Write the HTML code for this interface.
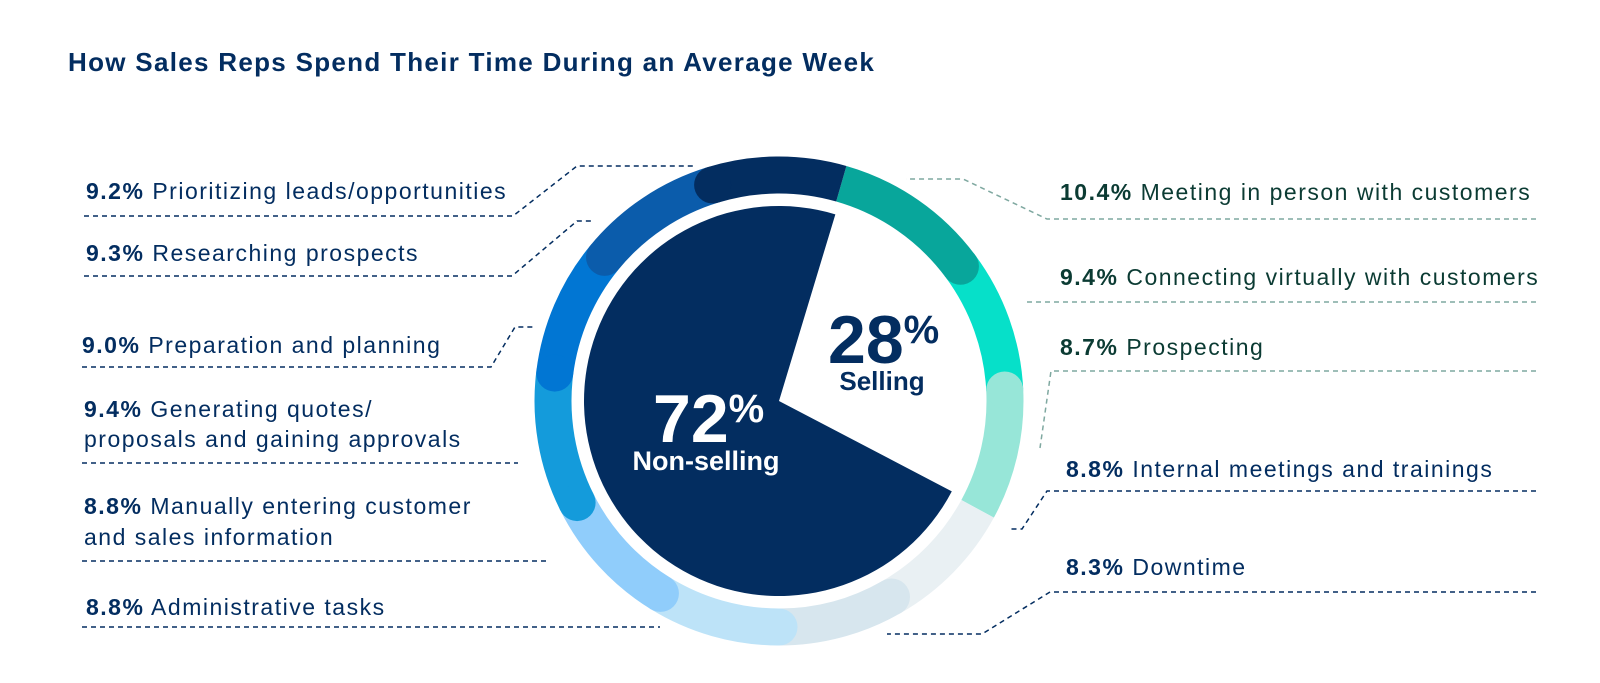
<!DOCTYPE html>
<html><head><meta charset="utf-8">
<style>
html,body{margin:0;padding:0;background:#fff;}
svg{display:block;font-family:"Liberation Sans",sans-serif;}
</style></head>
<body>
<svg id="chart" width="1600" height="683" viewBox="0 0 1600 683">
<text x="68" y="71" font-size="26" font-weight="bold" letter-spacing="1.3" fill="#032d60">How Sales Reps Spend Their Time During an Average Week</text>
<g id="ring"></g>
<g id="pie"></g>
<g id="leaders"></g>
<g id="labels"></g>
<g>
<text x="653" y="442" font-size="68" font-weight="bold" fill="#fff">72<tspan font-size="40" dy="-20">%</tspan></text>
<text x="706" y="470" font-size="27" font-weight="bold" fill="#fff" text-anchor="middle">Non-selling</text>
<text x="828" y="363" font-size="68" font-weight="bold" fill="#032d60">28<tspan font-size="40" dy="-20">%</tspan></text>
<text x="882" y="390" font-size="26" font-weight="bold" fill="#032d60" text-anchor="middle">Selling</text>
</g>
</svg>
<script>
// data (clockwise from the top, starting at the selling block)
const categories = ["Meeting in person with customers","Connecting virtually with customers","Prospecting","Internal meetings and trainings","Downtime","Administrative tasks","Manually entering customer and sales information","Generating quotes/ proposals and gaining approvals","Preparation and planning","Researching prospects","Prioritizing leads/opportunities"];
const values = [10.4, 9.4, 8.7, 8.8, 8.3, 8.8, 8.8, 9.4, 9.0, 9.3, 9.2];
const sellingShare = [28, 72];
const pieLabels = ["Selling", "Non-selling"];

const NS = "http://www.w3.org/2000/svg";
const cx = 779, cy = 401, ringR = 226, ringW = 37, pieR = 195, startDeg = 16;
const colors = ["#08a69b","#06e0c9","#97e6d8","#e9f0f3","#d7e6ee","#bde3f8","#90cdfb","#149bdb","#0176d3","#0b5cab","#032d60"];
const capStart = [false,false,true,false,true,true,true,true,true,true,true];
const capEnd = [true,false,false,false,false,false,false,false,false,false,false];
function pt(r, deg){const a=deg*Math.PI/180;return [cx+r*Math.sin(a), cy-r*Math.cos(a)];}
function angleOf(v,total){return v/total*360;}
const total = values.reduce((a,b)=>a+b,0);
const ring = document.getElementById('ring');
let a0 = startDeg;
const segs=[];
values.forEach((v,i)=>{
  const a1 = a0 + angleOf(v,total);
  const p0=pt(ringR,a0), p1=pt(ringR,a1);
  const p=document.createElementNS(NS,'path');
  p.setAttribute('d',`M${p0[0]} ${p0[1]} A${ringR} ${ringR} 0 ${(a1-a0)>180?1:0} 1 ${p1[0]} ${p1[1]}`);
  p.setAttribute('fill','none');p.setAttribute('stroke',colors[i]);p.setAttribute('stroke-width',ringW);
  
  
  ring.appendChild(p);
  segs.push([a0,a1]);
  a0=a1;
});
values.forEach((v,i)=>{
  [[capStart[i],segs[i][0]],[capEnd[i],segs[i][1]]].forEach(([on,ang])=>{
    if(!on)return;
    const c=pt(ringR,ang);
    const el=document.createElementNS(NS,'circle');
    el.setAttribute('cx',c[0]);el.setAttribute('cy',c[1]);el.setAttribute('r',ringW/2);el.setAttribute('fill',colors[i]);
    
    
    ring.appendChild(el);
  });
});
// pie
const pie=document.getElementById('pie');
const pieTotal=sellingShare[0]+sellingShare[1];
const pieColors=["#ffffff","#032d60"];
let b0=16.8;
sellingShare.forEach((v,i)=>{
  const b1=b0+angleOf(v,pieTotal);
  const p0=pt(pieR,b0),p1=pt(pieR,b1);
  const p=document.createElementNS(NS,'path');
  p.setAttribute('d',`M${cx} ${cy} L${p0[0]} ${p0[1]} A${pieR} ${pieR} 0 ${(b1-b0)>180?1:0} 1 ${p1[0]} ${p1[1]} Z`);
  p.setAttribute('fill',pieColors[i]);
  
  
  pie.appendChild(p);
  b0=b1;
});
// labels
const labelPos = [
 {x:1060,y:[200],line:"1536,219 1047,219 963,179 906,179",c:"#0b3b33",lc:"#7fa8a0"},
 {x:1060,y:[285],line:"1536,302 1026,302",c:"#0b3b33",lc:"#7fa8a0"},
 {x:1060,y:[355],line:"1536,371 1051,371 1040,448",c:"#0b3b33",lc:"#7fa8a0"},
 {x:1066,y:[477],line:"1536,491 1047,491 1022,529 1009,529",c:"#032d60",lc:"#032d60"},
 {x:1066,y:[575],line:"1536,592 1050,592 982,634 887,634",c:"#032d60",lc:"#032d60"},
 {x:86,y:[615],line:"82,627 660,627",c:"#032d60",lc:"#032d60"},
 {x:84,y:[514,545],line:"82,561 548,561",c:"#032d60",lc:"#032d60"},
 {x:84,y:[417,447],line:"82,463 518,463",c:"#032d60",lc:"#032d60"},
 {x:82,y:[353],line:"82,367 491,367 515,327 534,327",c:"#032d60",lc:"#032d60"},
 {x:86,y:[261],line:"84,276 512,276 577,221 592,221",c:"#032d60",lc:"#032d60"},
 {x:86,y:[199],line:"84,216 513,216 577,166 696,166",c:"#032d60",lc:"#032d60"}
];
const splits = {6:["Manually entering customer","and sales information"],7:["Generating quotes/","proposals and gaining approvals"]};
const leaders=document.getElementById('leaders'), labels=document.getElementById('labels');
values.forEach((v,i)=>{
  const L=labelPos[i];
  const pl=document.createElementNS(NS,'polyline');
  pl.setAttribute('points',L.line);pl.setAttribute('fill','none');pl.setAttribute('stroke',L.lc);
  pl.setAttribute('stroke-width','1.5');pl.setAttribute('stroke-dasharray','5 4');
  
  
  leaders.appendChild(pl);
  const lines = splits[i] || [categories[i]];
  lines.forEach((txt,j)=>{
    const t=document.createElementNS(NS,'text');
    t.setAttribute('x',L.x);t.setAttribute('y',L.y[j]);t.setAttribute('font-size','23');t.setAttribute('letter-spacing','1.5');t.setAttribute('fill',L.c);
    
    
    if(j===0){
      const b=document.createElementNS(NS,'tspan');b.setAttribute('font-weight','bold');b.textContent=v.toFixed(1)+'%';
      t.appendChild(b);t.appendChild(document.createTextNode(' '+txt));
    } else t.textContent=txt;
    labels.appendChild(t);
  });
});
</script>
</body></html>
